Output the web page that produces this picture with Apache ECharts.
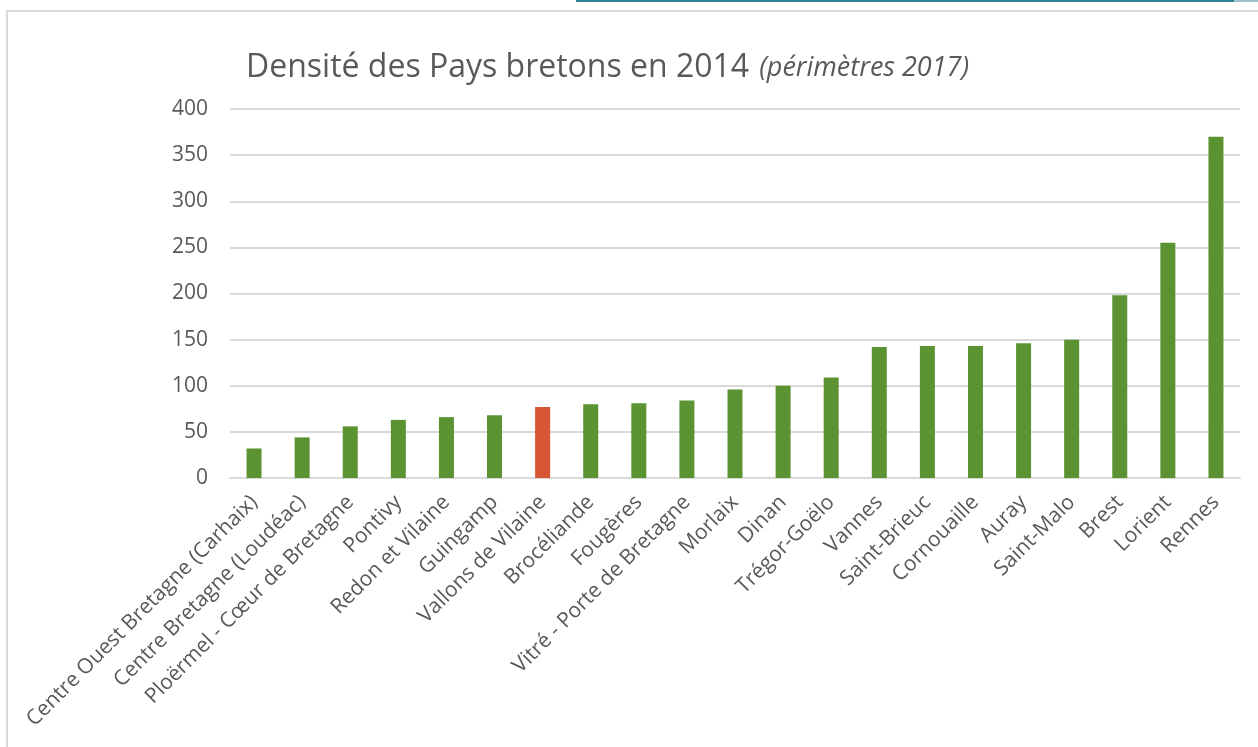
<!DOCTYPE html>
<html lang="fr">
<head>
<meta charset="utf-8">
<title>Densité des Pays bretons en 2014</title>
<script src="https://cdn.jsdelivr.net/npm/echarts@6/dist/echarts.min.js"></script>
<style>
  html, body { margin: 0; padding: 0; background: #ffffff; }
  #chart { width: 1258px; height: 747px; }
</style>
</head>
<body>
<div id="chart"></div>
<script>
// Pays bretons, densité de population 2014 (hab./km²), périmètres 2017
const pays = [
  'Centre Ouest Bretagne (Carhaix)', 'Centre Bretagne (Loudéac)', 'Ploërmel - Cœur de Bretagne',
  'Pontivy', 'Redon et Vilaine', 'Guingamp', 'Vallons de Vilaine', 'Brocéliande', 'Fougères',
  'Vitré - Porte de Bretagne', 'Morlaix', 'Dinan', 'Trégor-Goëlo', 'Vannes', 'Saint-Brieuc',
  'Cornouaille', 'Auray', 'Saint-Malo', 'Brest', 'Lorient', 'Rennes'
];
const densite = [32, 44, 56, 63, 66, 68, 77, 80, 81, 84, 96, 100, 109, 142, 143, 143, 146, 150, 198, 255, 370];
const paysMisEnAvant = 'Vallons de Vilaine';

const yMin = 0, yMax = 400, yStep = 50;

const vert = '#5b9332';
const orange = '#d65532';
const gris = '#595959';
const grille = '#d9d9d9';

const chart = echarts.init(document.getElementById('chart'), null, { renderer: 'canvas' });

chart.setOption({
  backgroundColor: '#ffffff',
  animation: false,
  textStyle: { fontFamily: 'Open Sans' },
  graphic: [
    // cadre du graphique
    { type: 'rect', shape: { x: 7, y: 11, width: 1300, height: 800 },
      style: { fill: 'none', stroke: grille, lineWidth: 2 }, z: 0 },
    // filet supérieur
    { type: 'rect', shape: { x: 576, y: 0, width: 658, height: 2 },
      style: { fill: '#31849b' }, z: 0 },
    { type: 'rect', shape: { x: 1234, y: 0, width: 30, height: 2 },
      style: { fill: '#9fc3cf' }, z: 0 }
  ],
  title: {
    text: '{a|Densité des Pays bretons en 2014}{gap|}{b|(périmètres 2017)}',
    left: 241,
    top: 47,
    textStyle: {
      fontWeight: 'normal',
      rich: {
        a: { fontFamily: 'Open Sans', fontSize: 32, fontWeight: 'normal', color: gris },
        gap: { width: 10 },
        b: { fontFamily: 'Open Sans', fontSize: 27, fontStyle: 'italic', fontWeight: 'normal', color: gris }
      }
    }
  },
  grid: { left: 230, right: 18, top: 109, bottom: 269, containLabel: false },
  xAxis: {
    type: 'category',
    data: pays,
    axisLine: { show: true, lineStyle: { color: grille, width: 2 } },
    axisTick: { show: false },
    axisLabel: {
      interval: 0,
      rotate: 45,
      margin: 21,
      color: gris,
      fontSize: 21,
      fontFamily: 'Open Sans'
    }
  },
  yAxis: {
    type: 'value',
    min: yMin,
    max: yMax,
    interval: yStep,
    axisLine: { show: false },
    axisTick: { show: false },
    splitLine: { lineStyle: { color: grille, width: 2 } },
    axisLabel: { color: gris, fontSize: 21, margin: 22, fontFamily: 'Open Sans' }
  },
  series: [{
    type: 'bar',
    barWidth: 15,
    data: densite.map((v, i) => ({
      value: v,
      itemStyle: { color: pays[i] === paysMisEnAvant ? orange : vert }
    }))
  }]
});
</script>
</body>
</html>
